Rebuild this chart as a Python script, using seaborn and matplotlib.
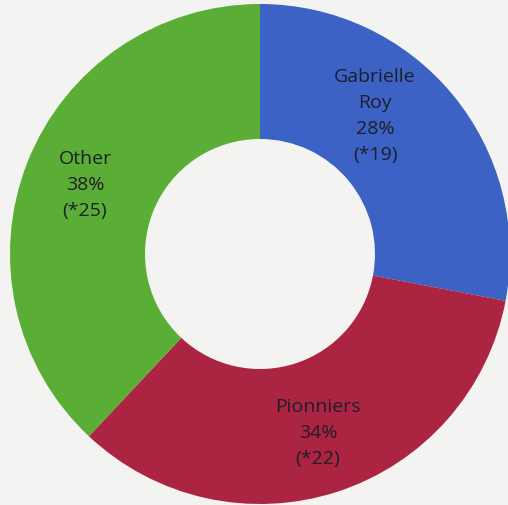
import matplotlib
matplotlib.use("Agg")
import matplotlib.pyplot as plt
import seaborn as sns

# data
schools = ["Gabrielle\nRoy", "Pionniers", "Other"]
shares = [28, 34, 38]
counts = [19, 22, 25]
colors = ["#3b62c4", "#ab2442", "#5aae36"]

sns.set_theme(style="white")
plt.rcParams['font.family'] = ['Open Sans', 'DejaVu Sans']

fig = plt.figure(figsize=(5.08, 5.06), dpi=100, facecolor="#f3f3f1")
ax = fig.add_axes([0, 0, 1, 1])
ax.set_facecolor("#f3f3f1")

wedges, _ = ax.pie(shares, colors=colors, startangle=90, counterclock=False,
                   radius=1.0, wedgeprops=dict(width=0.54, linewidth=0))

# label positions (centre of each text block)
label_pos = [(0.46, 0.556), (0.232, -0.712), (-0.70, 0.28)]
for name, pct, n, (lx, ly) in zip(schools, shares, counts, label_pos):
    ax.text(lx, ly, f"{name}\n{pct}%\n(*{n})", ha="center", va="center",
            fontsize=14, color="#1e1e28", linespacing=1.55)

ax.set_xlim(-1.04, 0.992)
ax.set_ylim(-1.004, 1.02)
ax.set_aspect("equal")
ax.axis("off")

fig.savefig("out.png", dpi=100, facecolor=fig.get_facecolor())
